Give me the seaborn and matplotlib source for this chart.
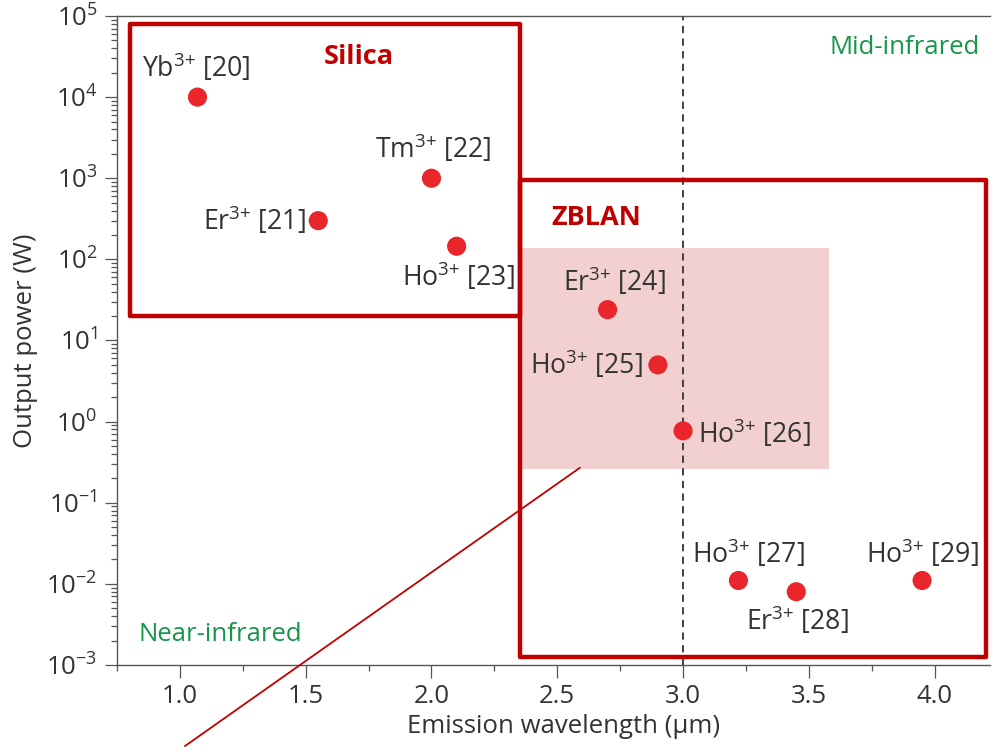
import matplotlib
matplotlib.use("Agg")
import matplotlib.pyplot as plt
from matplotlib.patches import Rectangle
from matplotlib.ticker import FixedLocator, MultipleLocator, NullFormatter
import pandas as pd
import seaborn as sns

# emission wavelength (um) and output power (W) for each fibre laser
ions = ["Yb", "Er", "Tm", "Ho", "Er", "Ho", "Ho", "Ho", "Er", "Ho"]
refs = [20, 21, 22, 23, 24, 25, 26, 27, 28, 29]
wavelength = [1.07, 1.55, 2.0, 2.1, 2.7, 2.9, 3.0, 3.22, 3.45, 3.95]
power = [1e4, 300, 1e3, 145, 24, 5.0, 0.77, 0.011, 0.008, 0.011]

x_ticks = [1.0, 1.5, 2.0, 2.5, 3.0, 3.5, 4.0]
x_ticklabels = ["1.0", "1.5", "2.0", "2.5", "3.0", "3.5", "4.0"]
y_decades = [-3, -2, -1, 0, 1, 2, 3, 4, 5]

# glass boxes: (x0, x1, y0, y1)
silica_box = (0.80, 2.35, 20, 8e4)
zblan_box = (2.35, 4.205, 1.25e-3, 9.4e2)
shade_box = (2.35, 3.58, 0.26, 140)
divider_x = 3.0

# label offsets in points and alignment
label_offsets = [(-1, 21), (-9, 0), (1, 21), (1, -22), (5, 20),
                 (-11, 0), (11, -2), (7, 19), (1, -21), (0, 19)]
label_align = ["center", "right", "center", "center", "center",
               "right", "left", "center", "center", "center"]

BOX_RED = "#c00000"
DOT_RED = "#e8262b"
GREEN = "#16964a"
TEXT = "#333333"
FS = 18.5
LABEL_FS = 19.2

sns.set_theme(style="white")
plt.rcParams["font.family"] = ["Open Sans", "DejaVu Sans"]
plt.rcParams["mathtext.fontset"] = "custom"
plt.rcParams["mathtext.rm"] = "Open Sans"
plt.rcParams["mathtext.it"] = "Open Sans:italic"
plt.rcParams["mathtext.bf"] = "Open Sans:bold"

df = pd.DataFrame({"ion": ions, "ref": refs, "wavelength": wavelength, "power": power})

fig = plt.figure(figsize=(9.93, 7.47), dpi=100)
ax = fig.add_axes([0.1178, 0.1098, 0.8792, 0.8688])
ax.set_yscale("log")
ax.set_xlim(0.75, 4.22)
ax.set_ylim(1e-3, 1e5)

# shaded region and dashed divider
x0, x1, y0, y1 = shade_box
ax.add_patch(Rectangle((x0, y0), x1 - x0, y1 - y0, facecolor="#f3d0d0",
                       edgecolor="none", zorder=1))
ax.axvline(divider_x, color="#333333", lw=1.3, ls=(0, (4, 3)), zorder=2)

for box in (silica_box, zblan_box):
    x0, x1, y0, y1 = box
    ax.add_patch(Rectangle((x0, y0), x1 - x0, y1 - y0, facecolor="none",
                           edgecolor=BOX_RED, lw=3.2, joinstyle="round", zorder=3))

sns.scatterplot(data=df, x="wavelength", y="power", s=190, color=DOT_RED,
                edgecolor="none", ax=ax, zorder=4, legend=False)

for (_, row), off, ha in zip(df.iterrows(), label_offsets, label_align):
    ax.annotate(f"{row['ion']}$^{{3{{+}}}}$ [{row['ref']}]",
                (row["wavelength"], row["power"]), xytext=off,
                textcoords="offset points", ha=ha, va="center",
                fontsize=LABEL_FS, color=TEXT, zorder=5)

ax.text(1.71, 3.1e4, "Silica", color=BOX_RED, fontsize=19.5, fontweight="bold",
        ha="center", va="center")
ax.text(2.657, 3.2e2, "ZBLAN", color=BOX_RED, fontsize=19.5, fontweight="bold",
        ha="center", va="center")
ax.text(4.18, 4.1e4, "Mid-infrared", color=GREEN, fontsize=FS,
        ha="right", va="center")
ax.text(0.837, 2.4e-3, "Near-infrared", color=GREEN, fontsize=FS,
        ha="left", va="center")

# pointer line running out of the axes
ax.plot([1.02, 2.59], [1e-4, 0.27], color=BOX_RED, lw=1.3, clip_on=False, zorder=3)

ax.set_xlabel("Emission wavelength (μm)", fontsize=FS, color=TEXT, labelpad=8)
ax.xaxis.set_label_coords(0.511, -0.075)
ax.set_ylabel("Output power (W)", fontsize=FS, color=TEXT, labelpad=6)

ax.set_xticks(x_ticks)
ax.set_xticklabels(x_ticklabels)
ax.xaxis.set_minor_locator(MultipleLocator(0.25))
ax.set_yticks([10.0 ** d for d in y_decades])
ax.set_yticklabels([f"$10^{{{d}}}$" for d in y_decades])
minor_y = [m * 10.0 ** d for d in y_decades[:-1] for m in range(2, 10)]
ax.yaxis.set_minor_locator(FixedLocator(minor_y))
ax.yaxis.set_minor_formatter(NullFormatter())

ax.tick_params(axis="both", which="major", direction="out", length=9, width=0.9,
               color="#555555", labelsize=FS, labelcolor=TEXT, pad=5)
ax.tick_params(axis="both", which="minor", direction="out", length=4.5, width=0.9,
               color="#555555")
ax.tick_params(axis="x", which="both", bottom=True, top=False)
ax.tick_params(axis="y", which="both", left=True, right=False)

for side in ("left", "bottom", "top"):
    ax.spines[side].set_color("#555555")
    ax.spines[side].set_linewidth(1.0)
ax.spines["right"].set_visible(False)

fig.savefig("out.png", dpi=100)
